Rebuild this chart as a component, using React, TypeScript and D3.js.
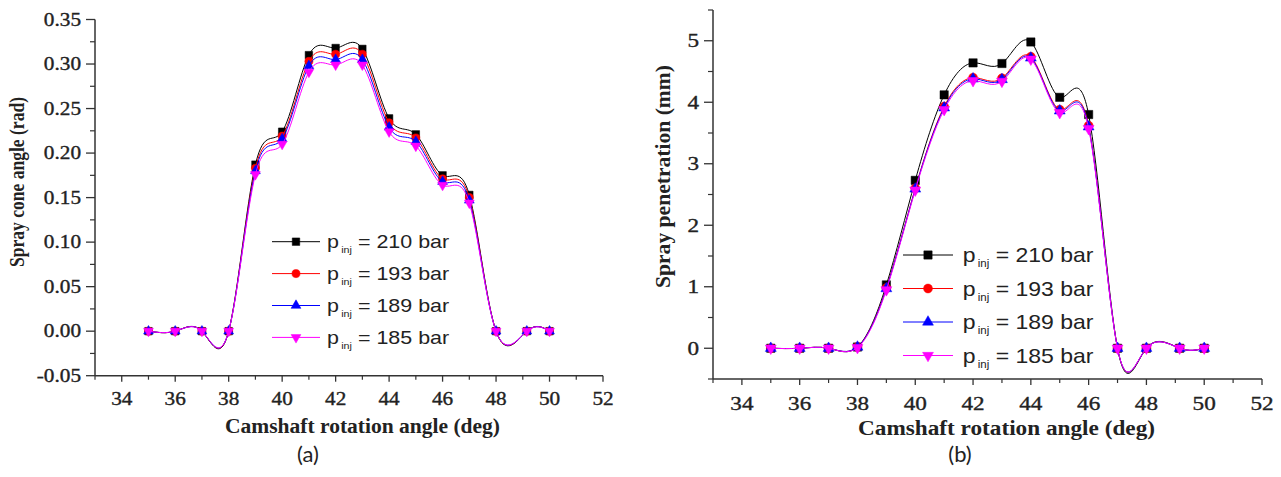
import React from 'react';
import * as d3 from 'd3';

const camAngles = [35, 36, 37, 38, 39, 40, 41, 42, 43, 44, 45, 46, 47, 48, 49.15, 50];

const coneP210 = [0, 0, 0, 0, 0.187, 0.224, 0.310, 0.318, 0.317, 0.239, 0.221, 0.175, 0.153, 0, 0, 0];
const coneP193 = [0, 0, 0, 0, 0.183, 0.219, 0.303, 0.311, 0.311, 0.234, 0.217, 0.171, 0.150, 0, 0, 0];
const coneP189 = [0, 0, 0, 0, 0.180, 0.216, 0.298, 0.305, 0.305, 0.229, 0.213, 0.168, 0.147, 0, 0, 0];
const coneP185 = [0, 0, 0, 0, 0.176, 0.210, 0.291, 0.299, 0.299, 0.224, 0.208, 0.164, 0.144, 0, 0, 0];

const penP210 = [0, 0, 0, 0.02, 1.03, 2.73, 4.12, 4.64, 4.63, 4.98, 4.08, 3.80, 0, 0, 0, 0];
const penP193 = [0, 0, 0, 0.02, 0.98, 2.60, 3.93, 4.40, 4.39, 4.74, 3.88, 3.62, 0, 0, 0, 0];
const penP189 = [0, 0, 0, 0.02, 0.97, 2.59, 3.91, 4.38, 4.37, 4.72, 3.86, 3.60, 0, 0, 0, 0];
const penP185 = [0, 0, 0, 0.01, 0.95, 2.57, 3.88, 4.35, 4.34, 4.70, 3.83, 3.57, 0, 0, 0, 0];

const pressures = ['210', '193', '189', '185'];
const seriesColors = ['#000000', '#ff0000', '#0000ff', '#ff00ff'];
const seriesSymbols = ['square', 'circle', 'up', 'down'];

const xTicks = [34, 36, 38, 40, 42, 44, 46, 48, 50, 52];
const xMinor = [33, 35, 37, 39, 41, 43, 45, 47, 49, 51];
const coneTicks = [-0.05, 0, 0.05, 0.1, 0.15, 0.2, 0.25, 0.3, 0.35];
const coneMinor = [-0.025, 0.025, 0.075, 0.125, 0.175, 0.225, 0.275, 0.325];
const penTicks = [0, 1, 2, 3, 4, 5];
const penMinor = [-0.5, 0.5, 1.5, 2.5, 3.5, 4.5, 5.5];

const AXIS = '#333';
const TXT = '#222';
const SERIF = '"Liberation Serif", "Times New Roman", serif';
const SANS = '"Liberation Sans", Arial, sans-serif';

const fmt2 = (v: number) => d3.format('.2f')(v).replace('\u2212', '-');
const fmt0 = (v: number) => d3.format('d')(v).replace('\u2212', '-');

function Marker({ kind, x, y, color, s }: any) {
  let path: string;
  let rot = 0;
  if (kind === 'square') path = d3.symbol(d3.symbolSquare, s * s)()!;
  else if (kind === 'circle') path = d3.symbol(d3.symbolCircle, Math.PI * (s / 2 + 0.3) ** 2)()!;
  else {
    path = d3.symbol(d3.symbolTriangle, s * s * 0.75)()!;
    if (kind === 'down') rot = 180;
  }
  return <path d={path} transform={`translate(${x},${y}) rotate(${rot})`} fill={color} stroke={color} strokeWidth={0.5} />;
}

function Panel({ cfg }: any) {
  const x = d3.scaleLinear().domain([33, 52]).range(cfg.xRange);
  const y = d3.scaleLinear().domain(cfg.yDomain).range(cfg.yRange);
  const line = d3
    .line<number>()
    .x((_, i) => x(camAngles[i]))
    .y((d) => y(d))
    .curve(d3.curveNatural);
  const x0 = cfg.xRange[0];
  const yb = cfg.yRange[0];
  const sx = cfg.sx;
  return (
    <g>
      {cfg.series.map((vals: number[], si: number) => (
        <g key={si}>
          <path d={line(vals)!} fill="none" stroke={seriesColors[si]} strokeWidth={1} />
          {vals.map((v, i) => (
            <Marker key={i} kind={seriesSymbols[si]} x={x(camAngles[i])} y={y(v)} color={seriesColors[si]} s={cfg.ms} />
          ))}
        </g>
      ))}
      <line x1={x0} x2={x0} y1={cfg.yRange[1]} y2={yb} stroke={AXIS} strokeWidth={1.5} />
      <line x1={x0} x2={cfg.xRange[1]} y1={yb} y2={yb} stroke={AXIS} strokeWidth={1.5} />
      {cfg.yTicks.map((t: number) => (
        <g key={'yt' + t}>
          <line x1={x0 - 9} x2={x0} y1={y(t)} y2={y(t)} stroke={AXIS} strokeWidth={1.3} />
          <text
            transform={`translate(${cfg.yLabelX},${y(t) + 6.3}) scale(${sx},1)`}
            textAnchor="end"
            fontFamily={SERIF}
            fontSize={cfg.tickFs}
            fill={TXT}
            stroke={TXT}
            strokeWidth={0.35}
          >
            {cfg.yFmt(t)}
          </text>
        </g>
      ))}
      {cfg.yMinor.map((t: number) => (
        <line key={'ym' + t} x1={x0 - 5} x2={x0} y1={y(t)} y2={y(t)} stroke={AXIS} strokeWidth={1.2} />
      ))}
      {xTicks.map((t) => (
        <g key={'xt' + t}>
          <line x1={x(t)} x2={x(t)} y1={yb} y2={yb + 6} stroke={AXIS} strokeWidth={1.3} />
          <text
            transform={`translate(${x(t)},${cfg.xLabelY}) scale(${sx},1)`}
            textAnchor="middle"
            fontFamily={SERIF}
            fontSize={cfg.tickFs}
            fill={TXT}
            stroke={TXT}
            strokeWidth={0.35}
          >
            {t}
          </text>
        </g>
      ))}
      {xMinor.map((t) => (
        <line key={'xm' + t} x1={x(t)} x2={x(t)} y1={yb} y2={yb + 4} stroke={AXIS} strokeWidth={1.2} />
      ))}
      <text
        x={cfg.xTitle[0]}
        y={cfg.xTitle[1]}
        textLength={cfg.xTitle[2]}
        lengthAdjust="spacingAndGlyphs"
        fontFamily={SERIF}
        fontWeight="bold"
        fontSize={20}
        fill={TXT}
      >
        Camshaft rotation angle (deg)
      </text>
      <text
        transform={`translate(${cfg.yTitle[0]},${cfg.yTitle[1]}) rotate(-90)`}
        textLength={cfg.yTitle[2]}
        lengthAdjust="spacingAndGlyphs"
        fontFamily={SERIF}
        fontWeight="bold"
        fontSize={20}
        fill={TXT}
      >
        {cfg.yTitleText}
      </text>
      {pressures.map((p, i) => {
        const ly = cfg.leg.y0 + i * cfg.leg.dy;
        return (
          <g key={'lg' + p}>
            <line x1={cfg.leg.x1} x2={cfg.leg.x2} y1={ly} y2={ly} stroke={seriesColors[i]} strokeWidth={1} />
            <Marker kind={seriesSymbols[i]} x={(cfg.leg.x1 + cfg.leg.x2) / 2} y={ly} color={seriesColors[i]} s={cfg.ms} />
            <text
              transform={`translate(${cfg.leg.tx},${ly + cfg.leg.fs * 0.35}) scale(${cfg.leg.sx},1)`}
              fontFamily={SANS}
              fontSize={cfg.leg.fs}
              fill={TXT}
            >
              p
              <tspan fontSize={cfg.leg.fs * 0.5} dx={2} dy={5}>
                inj
              </tspan>
              <tspan dy={-5}>{` = ${p} bar`}</tspan>
            </text>
          </g>
        );
      })}
      <text
        x={cfg.tag[0]}
        y={462}
        textAnchor="middle"
        fontFamily='Lato, "Open Sans", sans-serif'
        fontSize={22}
        fill={TXT}
      >
        {cfg.tag[1]}
      </text>
    </g>
  );
}

export default function App() {
  const panelA = {
    series: [coneP210, coneP193, coneP189, coneP185],
    xRange: [95, 603],
    yDomain: [-0.05, 0.35],
    yRange: [375.7, 19.5],
    yTicks: coneTicks,
    yMinor: coneMinor,
    yFmt: fmt2,
    yLabelX: 81,
    xLabelY: 404.5,
    tickFs: 18,
    sx: 1.18,
    ms: 7.5,
    xTitle: [225, 432.5, 275],
    yTitle: [24, 267, 170],
    yTitleText: 'Spray cone angle (rad)',
    leg: { y0: 241.7, dy: 31.9, x1: 272, x2: 320, tx: 327, fs: 19, sx: 1.13 },
    tag: [308, '(a)'],
  };
  const panelB = {
    series: [penP210, penP193, penP189, penP185],
    xRange: [713, 1262],
    yDomain: [-0.5, 5.5],
    yRange: [379, 10],
    yTicks: penTicks,
    yMinor: penMinor,
    yFmt: fmt0,
    yLabelX: 699,
    xLabelY: 409.5,
    tickFs: 19,
    sx: 1.22,
    ms: 8.3,
    xTitle: [858, 435, 297],
    yTitle: [670, 288, 223],
    yTitleText: 'Spray penetration (mm)',
    leg: { y0: 255, dy: 33.5, x1: 903, x2: 953, tx: 962.7, fs: 20, sx: 1.15 },
    tag: [960, '(b)'],
  };
  return (
    <svg
      width={1281}
      height={477}
      style={{ position: 'absolute', left: 0, top: 0, background: '#fff' }}
    >
      <rect width={1281} height={477} fill="#fff" />
      <Panel cfg={panelA} />
      <Panel cfg={panelB} />
    </svg>
  );
}
